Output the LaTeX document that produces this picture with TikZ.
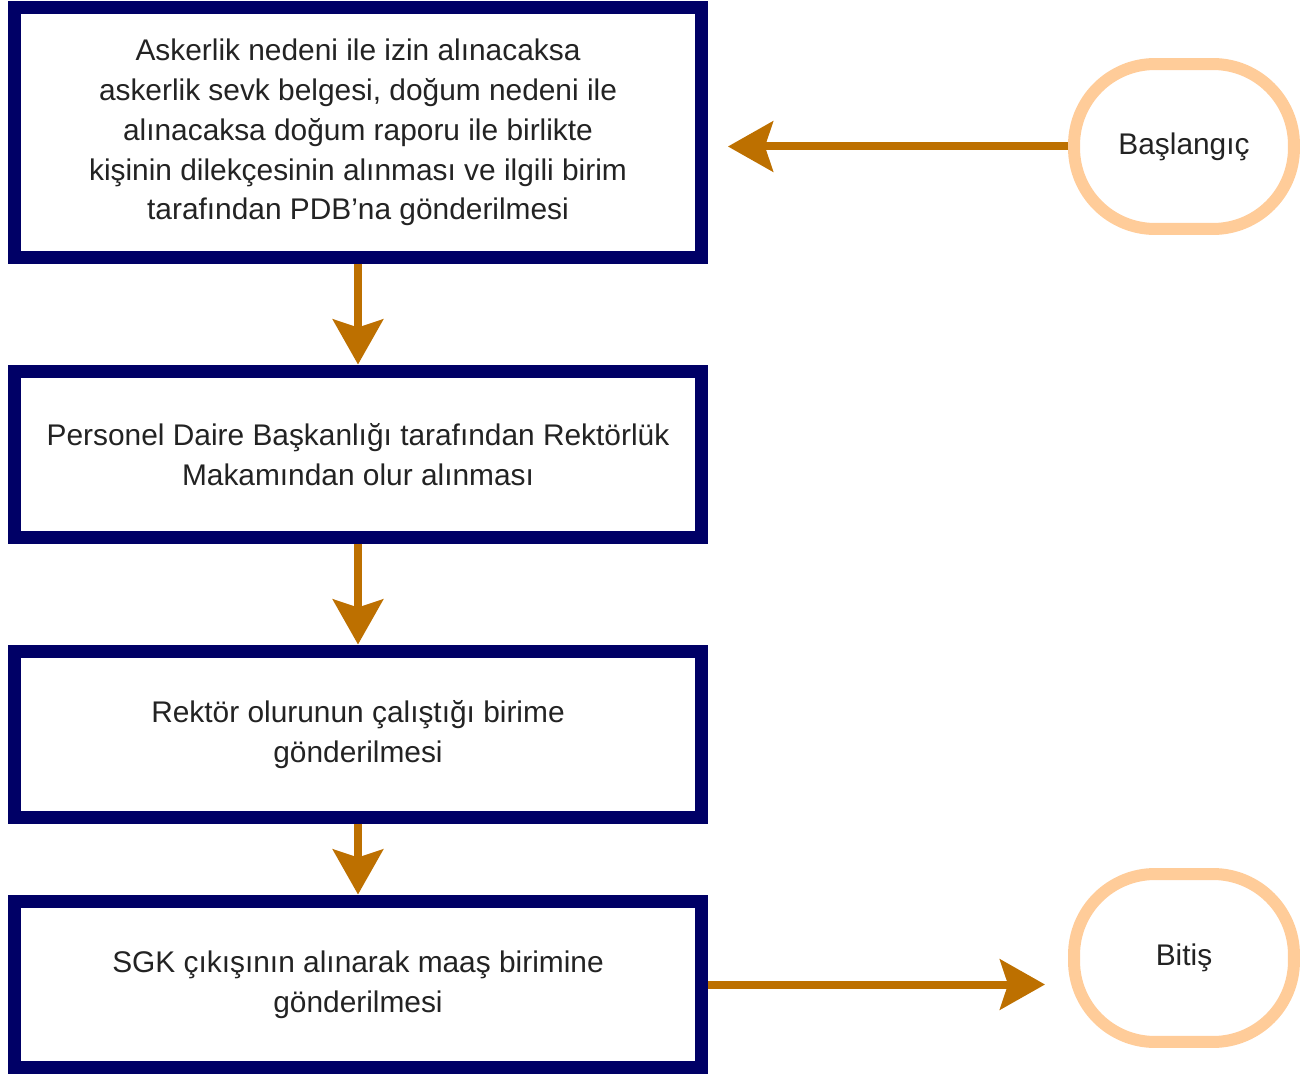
\documentclass[tikz,border=0pt]{standalone}
\usepackage{fontspec}
\setmainfont{Liberation Sans}
\usetikzlibrary{arrows.meta}
\definecolor{kutumavi}{RGB}{0,0,102}
\definecolor{okturuncu}{RGB}{189,112,0}
\definecolor{uctaten}{RGB}{255,204,153}
\definecolor{yazi}{RGB}{35,35,35}
\tikzset{
  adim/.style={draw=kutumavi, line width=0.26cm, fill=white, minimum width=13.74cm,
    minimum height=3.34cm, align=center, text=yazi, inner sep=0pt},
  uc/.style={draw=uctaten, line width=0.24cm, fill=white, rounded corners=1.62cm,
    minimum width=4.4cm, minimum height=3.3cm, text=yazi, inner sep=0pt},
  akis/.style={draw=okturuncu, line width=0.16cm,
    -{Stealth[length=0.9cm, width=1.0cm, inset=0.16cm]}}
}
\begin{document}
\begin{tikzpicture}[x=0.02cm, y=-0.02cm, font=\fontsize{17}{22.7}\selectfont]
  \useasboundingbox (0,0) rectangle (1308,1074);
  % adimlar
  \node[adim, minimum height=5.02cm] (b1) at (358,132.5)
    {Askerlik nedeni ile izin alınacaksa\\askerlik sevk belgesi, doğum nedeni ile\\alınacaksa doğum raporu ile birlikte\\kişinin dilekçesinin alınması ve ilgili birim\\tarafından PDB’na gönderilmesi};
  \node[adim] (b2) at (358,454.5)
    {Personel Daire Başkanlığı tarafından Rektörlük\\Makamından olur alınması};
  \node[adim] (b3) at (358,734.5)
    {Rektör olurunun çalıştığı birime\\gönderilmesi};
  \node[adim] (b4) at (358,984.5)
    {SGK çıkışının alınarak maaş birimine\\gönderilmesi};
  % baslangic ve bitis
  \node[uc] (bas) at (1184,146.5) {Başlangıç};
  \node[uc, minimum height=3.36cm] (fin) at (1184,958) {Bitiş};
  % oklar
  \draw[akis, shorten >=0.4cm] (bas.west) -- (bas.west -| b1.east);
  \draw[akis] (b1.south) -- (b2.north);
  \draw[akis] (b2.south) -- (b3.north);
  \draw[akis] (b3.south) -- (b4.north);
  \draw[akis, shorten >=0.46cm] (b4.east) -- (b4.east -| fin.west);
\end{tikzpicture}
\end{document}
